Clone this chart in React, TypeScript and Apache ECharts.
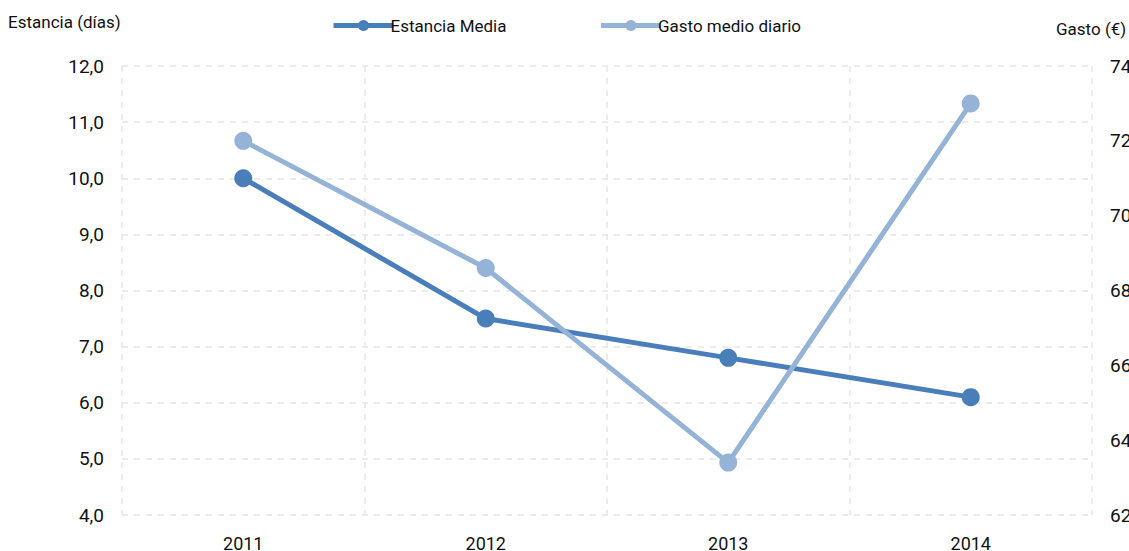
import React, { useEffect, useRef } from "react";
import * as echarts from "echarts";

const categories = ["2011", "2012", "2013", "2014"];
const estanciaMedia = [10.0, 7.5, 6.8, 6.1];
const gastoMedioDiario = [72.0, 68.6, 63.4, 73.0];
const leftTicks = { min: 4, max: 12, interval: 1 };
const rightTicks = { min: 62, max: 74, interval: 2 };

const FONT = "Roboto";
const DARK = "#4a7ebb";
const LIGHT = "#95b3d7";
const GRID = "#e6e6e6";

export default function App() {
  const ref = useRef<HTMLDivElement>(null);
  useEffect(() => {
    if (!ref.current) return;
    const chart = echarts.init(ref.current, undefined, { renderer: "svg" });
    chart.setOption({
      animation: false,
      textStyle: { fontFamily: FONT },
      legend: {
        top: 12,
        left: 326,
        itemWidth: 60,
        itemHeight: 14,
        itemGap: 92,
        lineStyle: { width: 5 },
        textStyle: { fontFamily: FONT, fontSize: 17, color: "#111", padding: [2, 0, 0, -8] },
        data: ["Estancia Media", "Gasto medio diario"],
      },
      graphic: [
        { type: "text", left: 8, top: 13, style: { text: "Estancia (días)", fontFamily: FONT, fontSize: 17, fill: "#111" } },
        { type: "text", left: 1056, top: 20, style: { text: "Gasto (€)", fontFamily: FONT, fontSize: 17, fill: "#111" } },
      ],
      grid: { left: 122, right: 37, top: 66, bottom: 36, outerBoundsMode: "none", containLabel: false },
      xAxis: {
        type: "category",
        data: categories,
        boundaryGap: true,
        axisLine: { show: false },
        axisTick: { show: false },
        axisLabel: { fontFamily: FONT, fontSize: 18, color: "#111", margin: 19 },
        splitLine: { show: true, lineStyle: { type: [6, 6], color: GRID, width: 1.5 } },
      },
      yAxis: [
        {
          type: "value",
          min: leftTicks.min,
          max: leftTicks.max,
          interval: leftTicks.interval,
          axisLine: { show: false },
          axisTick: { show: false },
          axisLabel: {
            fontFamily: FONT,
            fontSize: 19,
            color: "#111",
            margin: 18,
            formatter: (v: number) => v.toFixed(1).replace(".", ","),
          },
          splitLine: { show: true, lineStyle: { type: [6, 6], color: GRID, width: 1.5 } },
        },
        {
          type: "value",
          min: rightTicks.min,
          max: rightTicks.max,
          interval: rightTicks.interval,
          axisLine: { show: false },
          axisTick: { show: false },
          axisLabel: { fontFamily: FONT, fontSize: 19, color: "#111", margin: 18 },
          splitLine: { show: false },
        },
      ],
      series: [
        {
          name: "Estancia Media",
          type: "line",
          data: estanciaMedia,
          yAxisIndex: 0,
          symbol: "circle",
          symbolSize: 18,
          itemStyle: { color: DARK },
          lineStyle: { color: DARK, width: 5 },
        },
        {
          name: "Gasto medio diario",
          type: "line",
          data: gastoMedioDiario,
          yAxisIndex: 1,
          symbol: "circle",
          symbolSize: 18,
          itemStyle: { color: LIGHT },
          lineStyle: { color: LIGHT, width: 5 },
        },
      ],
    });
    return () => chart.dispose();
  }, []);
  return (
    <div
      ref={ref}
      style={{ position: "absolute", left: 0, top: 0, width: 1129, height: 551, overflow: "hidden" }}
    />
  );
}
